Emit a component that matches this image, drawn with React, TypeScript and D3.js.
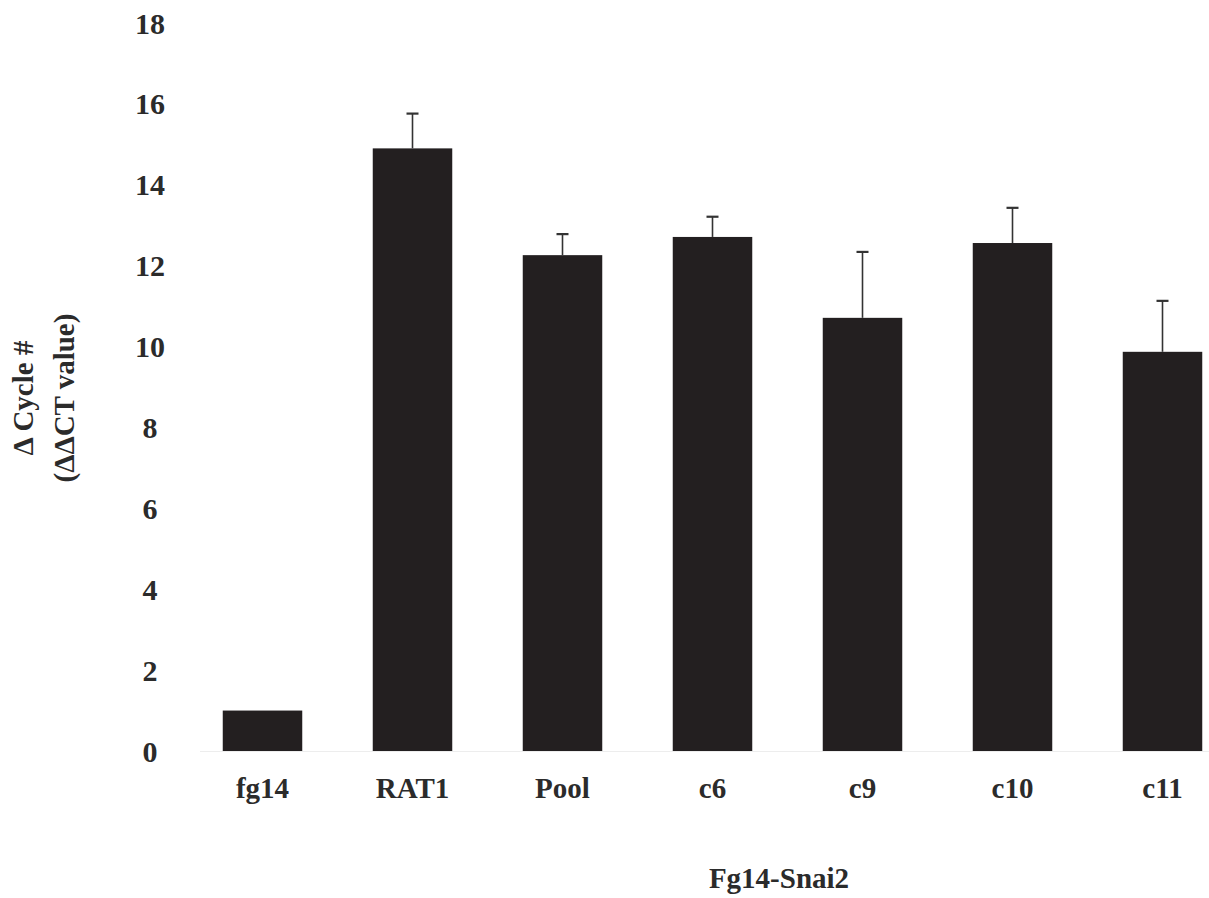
import React from "react";
import * as d3 from "d3";

const categories = ["fg14", "RAT1", "Pool", "c6", "c9", "c10", "c11"];
const values = [1.0, 14.9, 12.26, 12.71, 10.71, 12.56, 9.87];
const errors = [0, 0.86, 0.52, 0.5, 1.63, 0.87, 1.26];
const yTicks = [0, 2, 4, 6, 8, 10, 12, 14, 16, 18];
const xTitle = "Fg14-Snai2";
const yTitleLines = ["\u0394 Cycle #", "(\u0394\u0394CT value)"];

const W = 1209;
const H = 898;
const barColor = "#231f20";
const textColor = "#2b2b2b";
const font = "'Liberation Serif', 'Times New Roman', serif";

export default function App() {
  const x = d3
    .scaleBand()
    .domain(categories)
    .range([187.5, 1237.5])
    .paddingInner(0.47)
    .paddingOuter(0.235);

  const y = d3.scaleLinear().domain([0, 18]).range([751, 23]);

  const capHalf = 6;

  return (
    <div style={{ position: "absolute", left: 0, top: 0 }}>
      <svg width={W} height={H} style={{ display: "block", background: "#fff" }}>
        {/* faint baseline */}
        <line x1={200} x2={W} y1={y(0) + 0.5} y2={y(0) + 0.5} stroke="#ededed" strokeWidth={1} />

        {/* bars */}
        {categories.map((c, i) => (
          <rect
            key={c}
            x={x(c)}
            y={y(values[i])}
            width={x.bandwidth()}
            height={y(0) - y(values[i])}
            fill={barColor}
          />
        ))}

        {/* error bars */}
        {categories.map((c, i) => {
          if (!errors[i]) return null;
          const cx = (x(c) as number) + x.bandwidth() / 2;
          const top = y(values[i] + errors[i]);
          return (
            <g key={"e" + c} stroke="#333" strokeWidth={1.6}>
              <line x1={cx} x2={cx} y1={y(values[i])} y2={top} />
              <line x1={cx - capHalf} x2={cx + capHalf} y1={top} y2={top} strokeWidth={2.2} />
            </g>
          );
        })}

        {/* y tick labels */}
        {yTicks.map((t) => (
          <text
            key={t}
            x={150}
            y={y(t)}
            dy="0.35em"
            textAnchor="middle"
            fontFamily={font}
            fontWeight="bold"
            fontSize={30}
            fill={textColor}
          >
            {t}
          </text>
        ))}

        {/* category labels */}
        {categories.map((c) => (
          <text
            key={"l" + c}
            x={(x(c) as number) + x.bandwidth() / 2}
            y={798}
            textAnchor="middle"
            fontFamily={font}
            fontWeight="bold"
            fontSize={29}
            fill={textColor}
          >
            {c}
          </text>
        ))}

        {/* x title */}
        <text
          x={779}
          y={888}
          textAnchor="middle"
          fontFamily={font}
          fontWeight="bold"
          fontSize={29}
          fill={textColor}
        >
          {xTitle}
        </text>

        {/* y title */}
        {yTitleLines.map((line, i) => (
          <text
            key={line}
            transform={`translate(${33 + i * 41},398) rotate(-90)`}
            textAnchor="middle"
            fontFamily={font}
            fontWeight="bold"
            fontSize={29}
            fill={textColor}
          >
            {line}
          </text>
        ))}
      </svg>
    </div>
  );
}
